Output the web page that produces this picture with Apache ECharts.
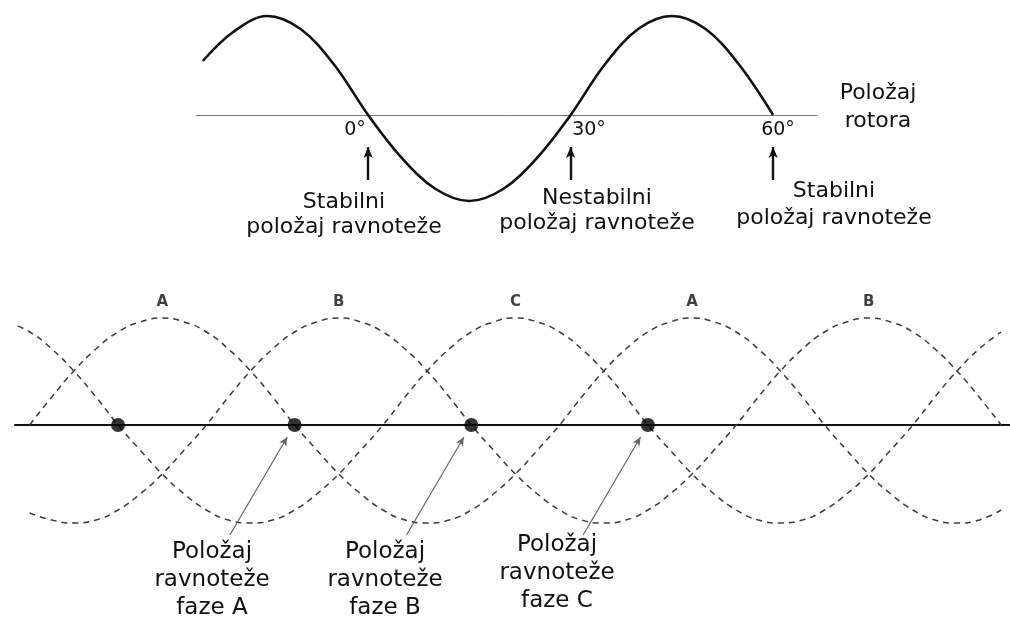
<!DOCTYPE html>
<html>
<head>
<meta charset="utf-8">
<script src="https://cdn.jsdelivr.net/npm/echarts@6/dist/echarts.min.js"></script>
<style>
html,body{margin:0;padding:0;background:#fff;}
#chart{width:1010px;height:619px;}
</style>
</head>
<body>
<div id="chart"></div>
<script>
// ---- Top diagram: torque vs. rotor position (mechanical degrees) ----
const MECH_DEG = [-24.5,-20,-15,-10,-5,0,5,10,15,20,25,30,35,40,45,50,55,60];
const TORQUE   = [54,83,99,86,50,0,-43,-74,-86,-74,-43,0,50,86,99,86,50,0];
const EQ_ANGLES = [0,30,60];
const EQ_LABELS = ['0°','30°','60°'];

// ---- Bottom diagram: three phases (electrical degrees) ----
const ELEC_DEG = [-15,0,15,30,45,60,75,90,105,120,135,150,165,180,195,210,225,240,255,270,285,300,315,330,345,360,375,390,405,420,435,450,465,480,495,510,525,540,555,570,585,600,615,630,645,660];
const PHASE_A = [null,0,28,54,76,93,103,107,103,93,76,54,28,0,-25,-49,-69,-85,-95,-98,-95,-85,-69,-49,-25,0,28,54,76,93,103,107,103,93,76,54,28,0,-25,-49,-69,-85,-95,-98,-95,-85];
const PHASE_B = [null,-88,-95,-98,-95,-85,-69,-49,-25,0,28,54,76,93,103,107,103,93,76,54,28,0,-25,-49,-69,-85,-95,-98,-95,-85,-69,-49,-25,0,28,54,76,93,103,107,103,93,76,54,28,0];
const PHASE_C = [103,93,76,54,28,0,-25,-49,-69,-85,-95,-98,-95,-85,-69,-49,-25,0,28,54,76,93,103,107,103,93,76,54,28,0,-25,-49,-69,-85,-95,-98,-95,-85,-69,-49,-25,0,28,54,76,93];
const PHASE_NAMES = ['A','B','C','A','B'];
const PHASE_PEAKS = [90,210,330,450,570];
const STABLE = [60,180,300,420];
const LABELLED_STABLE = [180,300,420];

const FONT = '"DejaVu Sans", "Liberation Sans", Arial, sans-serif';
const chart = echarts.init(document.getElementById('chart'), null, {renderer:'canvas'});

function pairs(xs, ys){ return xs.map((x,i)=>[x, ys[i]]); }

function txt(text, x, y, size, lh){
  return {
    type:'text', x:x, y:y, silent:true,
    style:{
      text:text, x:0, y:0, fill:'#111',
      font: size + 'px ' + FONT,
      fontSize:size, fontFamily:FONT,
      lineHeight: lh || size+3,
      align:'center', verticalAlign:'middle',
      textAlign:'center', textVerticalAlign:'middle'
    }
  };
}

const dashStyle = {color:'#3a3a3a', width:1.5, type:[6,5]};

chart.setOption({
  animation:false,
  backgroundColor:'#fff',
  grid:[
    {left:196, width:621, top:15, height:200},
    {left:15, width:995, top:285, height:280}
  ],
  xAxis:[
    {gridIndex:0, type:'value', min:-25.5, max:66.5,
     axisLine:{show:true, onZero:true, lineStyle:{color:'#777', width:1}},
     axisTick:{show:false}, axisLabel:{show:false}, splitLine:{show:false}},
    {gridIndex:1, type:'value', min:-10, max:666,
     axisLine:{show:true, onZero:true, lineStyle:{color:'#111', width:2}},
     axisTick:{show:false}, axisLabel:{show:false}, splitLine:{show:false}}
  ],
  yAxis:[
    {gridIndex:0, type:'value', min:-100, max:100, show:false, splitLine:{show:false}},
    {gridIndex:1, type:'value', min:-140, max:140, show:false, splitLine:{show:false}}
  ],
  series:[
    {
      type:'line', xAxisIndex:0, yAxisIndex:0, smooth:0.35, symbol:'none',
      data: pairs(MECH_DEG, TORQUE),
      lineStyle:{color:'#111', width:2.6},
      markLine:{
        silent:true, symbol:['none','arrow'], symbolSize:[7,11],
        label:{show:false},
        lineStyle:{color:'#111', width:2.4, type:'solid'},
        data: EQ_ANGLES.map(a=>[{coord:[a,-65]},{coord:[a,-32]}])
      }
    },
    {type:'line', xAxisIndex:1, yAxisIndex:1, smooth:true, symbol:'none',
     data: pairs(ELEC_DEG, PHASE_A), lineStyle:dashStyle},
    {type:'line', xAxisIndex:1, yAxisIndex:1, smooth:true, symbol:'none',
     data: pairs(ELEC_DEG, PHASE_B), lineStyle:dashStyle},
    {type:'line', xAxisIndex:1, yAxisIndex:1, smooth:true, symbol:'none',
     data: pairs(ELEC_DEG, PHASE_C), lineStyle:dashStyle},
    {
      type:'scatter', xAxisIndex:1, yAxisIndex:1, symbol:'circle', symbolSize:14,
      itemStyle:{color:'#000'}, z:5,
      data: STABLE.map(a=>[a,0]),
      markLine:{
        silent:true, symbol:['none','arrow'], symbolSize:[6,9],
        label:{show:false},
        lineStyle:{color:'#666', width:1.2, type:'solid'},
        data: LABELLED_STABLE.map(a=>[{coord:[a-44,-110]},{coord:[a-5,-12]}])
      }
    },
    {
      type:'scatter', xAxisIndex:1, yAxisIndex:1, symbol:'circle', symbolSize:2, z:6,
      itemStyle:{color:'rgba(0,0,0,0)'},
      data: PHASE_PEAKS.map((a,i)=>({value:[a,123], name:PHASE_NAMES[i]})),
      label:{show:true, position:'inside', formatter:p=>p.name,
             color:'#111', fontSize:15, fontWeight:'bold', fontFamily:FONT}
    }
  ],
  graphic:[
    txt(EQ_LABELS[0], 355, 130, 19),
    txt(EQ_LABELS[1], 589, 130, 19),
    txt(EQ_LABELS[2], 778, 130, 19),
    txt('Stabilni\npoložaj ravnoteže', 344, 215, 22, 25),
    txt('Nestabilni\npoložaj ravnoteže', 597, 211, 22, 25),
    txt('Stabilni\npoložaj ravnoteže', 834, 205, 22, 27),
    txt('Položaj\nrotora', 878, 107, 22, 28),
    txt('Položaj\nravnoteže\nfaze A', 212, 580, 23, 28),
    txt('Položaj\nravnoteže\nfaze B', 385, 580, 23, 28),
    txt('Položaj\nravnoteže\nfaze C', 557, 573, 23, 28)
  ]
});
</script>
</body>
</html>
